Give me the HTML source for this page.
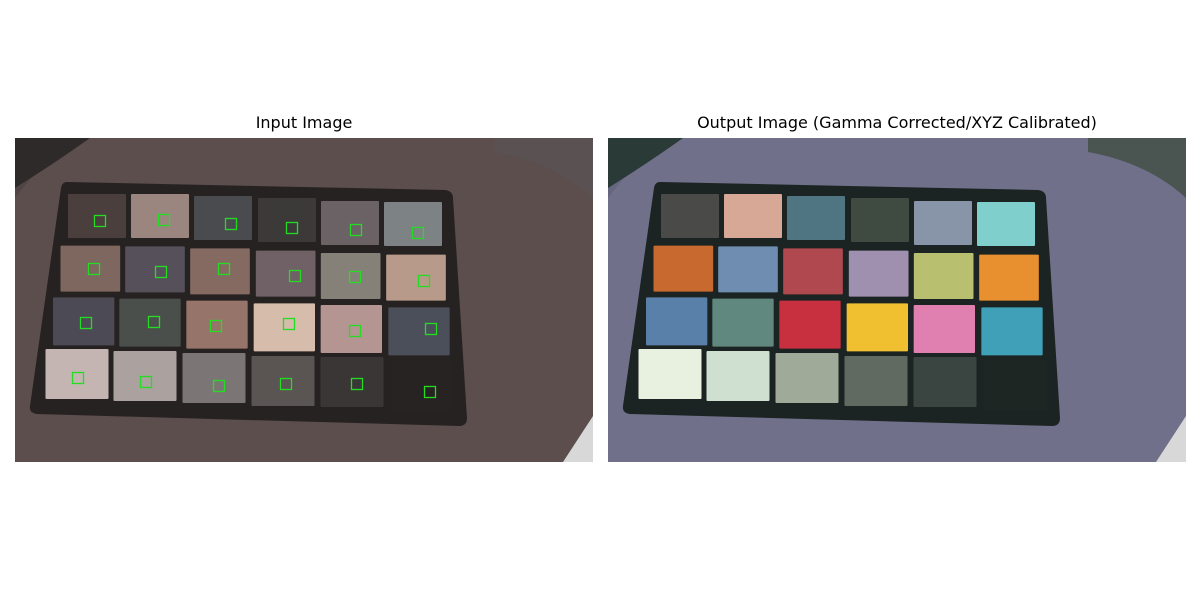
<!DOCTYPE html>
<html><head><meta charset="utf-8"><style>
body{margin:0;background:#fff;width:1200px;height:600px;position:relative;overflow:hidden;font-family:"DejaVu Sans","Liberation Sans",sans-serif}
.t{position:absolute;top:113px;font-size:16px;color:#000;text-align:center;width:578px}
svg{position:absolute;top:138px}
</style></head><body>
<div class="t" style="left:15px">Input Image</div>
<div class="t" style="left:608px">Output Image (Gamma Corrected/XYZ Calibrated)</div>
<svg id="L" style="left:15px" width="578" height="324" viewBox="0 0 578 324"></svg>
<svg id="R" style="left:608px" width="578" height="324" viewBox="0 0 578 324"></svg>
<script>
const leftColors=[["#4a3f3d","#9a857f","#4a4b4f","#3b3a38","#6b6265","#7d8285"],["#7d675f","#55505a","#856a62","#6f6166","#858078","#b89a8a"],["#4c4a55","#4b4f4c","#977469","#d6bcaa","#b49592","#4a4f5a"],["#c4b5b2","#aba19f","#7b7675","#5a5452","#3a3635","#262322"]];
const rightColors=[["#4a4a48","#d8a896","#4f7482","#3f4a40","#8895a8","#7fd0cc"],["#c86a30","#6e8db0","#b04850","#a090b0","#b8c070","#e89030"],["#5880a8","#60887e","#c83040","#f0c030","#e080b0","#40a0b8"],["#e8f0e0","#d0e0d0","#a0aa98","#606a60","#3a4440","#1e2624"]];
const boxX=[[85,149,216,277,341,403],[79,146,209,280,340,409],[71,139,201,274,340,416],[63,131,204,271,342,415]];
const boxY=[[83,82,86,90,92,95],[131,134,131,138,139,143],[185,184,188,186,193,191],[240,244,248,246,246,254]];
const row1=[[82,78],[145,78],[208,80],[272,82],[335,85],[398,86]];
const row4=[[62,236],[130,238],[199,240],[268,243],[337,244],[407,247]];
const NS="http://www.w3.org/2000/svg";
function mk(svg,tag,attrs){const e=document.createElementNS(NS,tag);for(const k in attrs)e.setAttribute(k,attrs[k]);svg.appendChild(e);return e;}
function draw(id,bg,bg2,dark,corner,board,colors,boxes){
  const s=document.getElementById(id);
  let e=mk(s,'rect',{x:0,y:0,width:578,height:324,fill:bg});
  
  e=mk(s,'path',{d:'M60 0 L480 0 Q560 40 578 60 L578 324 L0 324 L0 60 Q30 20 60 0 Z',fill:bg2});
  
  e=mk(s,'path',{d:'M0 0 L75 0 Q40 25 0 50 Z',fill:dark});
  
  e=mk(s,'path',{d:'M480 0 L578 0 L578 60 Q540 25 480 14 Z',fill:corner});
  
  e=mk(s,'path',{d:'M548 324 L578 278 L578 324 Z',fill:'#d8d8d8'});
  
  e=mk(s,'path',{d:'M52 44 L430 52 Q438 53 438 60 L452 280 Q452 288 444 288 L22 276 Q14 275 15 268 L46 50 Q47 44 52 44 Z',fill:board});
  
  for(let r=0;r<4;r++)for(let c=0;c<6;c++){
    const t=r/3;const cx=row1[c][0]+(row4[c][0]-row1[c][0])*t;const cy=row1[c][1]+(row4[c][1]-row1[c][1])*t;
    const w=58+5*t,h=44+6*t;
    e=mk(s,'rect',{x:cx-w/2,y:cy-h/2,width:w,height:h,fill:colors[r][c],rx:1});
    
    if(boxes){
      e=mk(s,'rect',{x:boxX[r][c]-5.5,y:boxY[r][c]-5.5,width:11,height:11,fill:'none',stroke:'#22dd22','stroke-width':1.3});
      
    }
  }
}
draw('L','#504444','#5c4e4d','#2e2a2a','#5a5252','#272222',leftColors,true);
draw('R','#666680','#70708a','#2a3a36','#4a5552','#1b2422',rightColors,false);
</script>
</body></html>
